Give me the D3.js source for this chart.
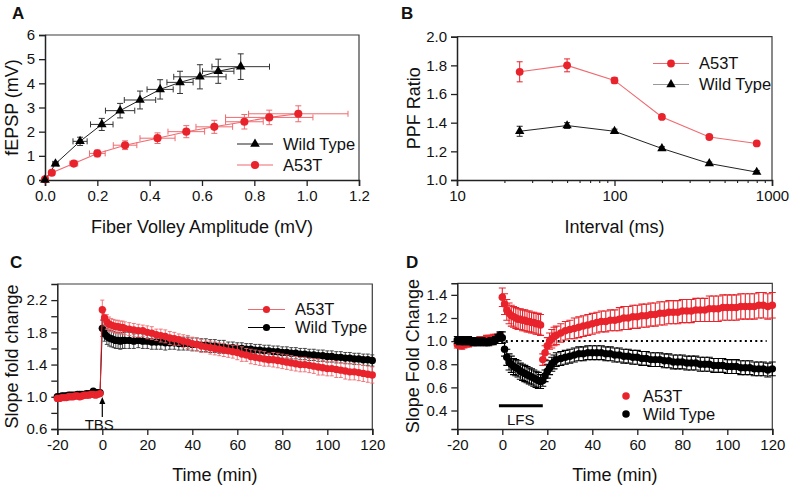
<!DOCTYPE html>
<html><head><meta charset="utf-8">
<script src="https://cdn.jsdelivr.net/npm/d3@7"></script>
<style>body{margin:0;background:#fff}</style>
</head><body>
<svg id="chart" width="792" height="489" style="background:#fff"></svg>
<script>
// ---------------- DATA ----------------
// Panel A: input-output (fiber volley vs fEPSP)
const aWtFv      = [0, 0.04, 0.134, 0.217, 0.287, 0.363, 0.44, 0.516, 0.592, 0.662, 0.748];
const aWtEpsp    = [0, 0.67, 1.6, 2.3, 2.87, 3.31, 3.75, 4.04, 4.27, 4.5, 4.69];
const aWtFvErr   = [0, 0.01, 0.027, 0.043, 0.056, 0.06, 0.05, 0.05, 0.1, 0.06, 0.11];
const aWtEpspErr = [0, 0.08, 0.17, 0.25, 0.3, 0.37, 0.4, 0.46, 0.5, 0.5, 0.53];
const aMutFv      = [0, 0.026, 0.11, 0.2, 0.306, 0.43, 0.54, 0.647, 0.762, 0.857, 0.968];
const aMutEpsp    = [0.03, 0.3, 0.68, 1.1, 1.44, 1.73, 2.0, 2.2, 2.41, 2.59, 2.74];
const aMutFvErr   = [0, 0.01, 0.015, 0.03, 0.045, 0.067, 0.07, 0.07, 0.072, 0.167, 0.19];
const aMutEpspErr = [0, 0.06, 0.1, 0.14, 0.18, 0.22, 0.25, 0.27, 0.3, 0.3, 0.33];
const aXTicks = [0, 0.2, 0.4, 0.6, 0.8, 1.0, 1.2];
const aXLabels = ["0.0", "0.2", "0.4", "0.6", "0.8", "1.0", "1.2"];
const aYTicks = [0, 1, 2, 3, 4, 5, 6];
const aYLabels = ["0", "1", "2", "3", "4", "5", "6"];

// Panel B: paired-pulse facilitation
const bInterval = [25, 50, 100, 200, 400, 800];
const bMut    = [1.755, 1.80, 1.695, 1.44, 1.30, 1.255];
const bMutErr = [0.07, 0.045, 0.02, 0.015, 0.012, 0.01];
const bWt     = [1.34, 1.38, 1.34, 1.22, 1.115, 1.055];
const bWtErr  = [0.035, 0.02, 0.015, 0.012, 0.01, 0.01];
const bXTicks = [10, 100, 1000];
const bXLabels = ["10", "100", "1000"];
const bXMinor = [20, 30, 40, 50, 60, 70, 80, 90, 200, 300, 400, 500, 600, 700, 800, 900];
const bYTicks = [1.0, 1.2, 1.4, 1.6, 1.8, 2.0];
const bYLabels = ["1.0", "1.2", "1.4", "1.6", "1.8", "2.0"];

// Panel C: LTP after TBS
const cTime = [-20,-19,-18,-17,-16,-15,-14,-13,-12,-11,-10,-9,-8,-7,-6,-5,-4,-3,-2,-1,
  0,1,2,3,4,5,6,7,8,9,10,
  12,14,16,18,20,22,24,26,28,30,32,34,36,38,40,42,44,46,48,50,52,54,56,58,60,
  62,64,66,68,70,72,74,76,78,80,82,84,86,88,90,92,94,96,98,100,102,104,106,108,110,112,114,116,118,120];
const cMut = [0.98,0.98,0.99,0.99,0.99,1.00,1.00,1.00,1.01,1.01,1.00,1.01,1.02,1.02,1.02,1.03,1.03,1.02,1.03,1.04,
  2.08,1.98,1.93,1.90,1.89,1.88,1.87,1.87,1.86,1.86,1.85,
  1.84,1.83,1.82,1.82,1.80,1.79,1.77,1.76,1.75,1.73,1.72,1.71,1.69,1.68,1.66,1.65,1.63,1.62,1.61,1.60,
  1.59,1.58,1.57,1.56,1.55,1.53,1.52,1.50,1.49,1.48,1.47,1.46,1.46,1.45,1.44,1.43,1.42,1.41,1.40,1.40,
  1.39,1.38,1.37,1.36,1.35,1.35,1.34,1.33,1.32,1.31,1.31,1.30,1.29,1.28,1.27];
const cMutErr = [0.02,0.02,0.02,0.02,0.02,0.02,0.02,0.02,0.02,0.02,0.02,0.02,0.02,0.02,0.02,0.02,0.02,0.02,0.02,0.02,
  0.12,0.10,0.09,0.09,0.08,0.08,0.08,0.08,0.08,0.08,0.08,
  0.08,0.08,0.08,0.07,0.08,0.08,0.07,0.08,0.08,0.08,0.08,0.07,0.08,0.08,0.08,0.08,0.08,0.07,0.08,0.08,
  0.08,0.08,0.08,0.08,0.09,0.09,0.08,0.09,0.09,0.09,0.09,0.08,0.09,0.09,0.09,0.09,0.09,0.09,0.09,0.09,
  0.09,0.09,0.10,0.09,0.09,0.09,0.10,0.09,0.10,0.10,0.10,0.10,0.10,0.10,0.10];
const cWt = [1.00,1.00,1.01,1.01,1.01,1.02,1.02,1.02,1.02,1.03,1.03,1.03,1.03,1.04,1.04,1.04,1.07,1.05,1.05,1.05,
  1.85,1.79,1.75,1.73,1.72,1.71,1.70,1.70,1.69,1.70,1.70,
  1.70,1.69,1.70,1.69,1.69,1.68,1.68,1.68,1.67,1.67,1.67,1.66,1.66,1.66,1.65,1.65,1.64,1.64,1.63,1.63,
  1.62,1.62,1.61,1.61,1.60,1.60,1.59,1.59,1.58,1.58,1.57,1.57,1.56,1.56,1.55,1.55,1.54,1.54,1.53,1.53,
  1.52,1.52,1.51,1.51,1.50,1.50,1.49,1.49,1.48,1.48,1.47,1.47,1.46,1.46,1.45];
const cWtErr = [0.02,0.02,0.02,0.02,0.02,0.02,0.02,0.02,0.02,0.02,0.02,0.02,0.02,0.02,0.02,0.02,0.02,0.02,0.02,0.02,
  0.10,0.10,0.10,0.10,0.10,0.10,0.10,0.10,0.10,0.10,0.10,
  0.10,0.09,0.09,0.09,0.09,0.09,0.09,0.09,0.09,0.08,0.08,0.08,0.08,0.08,0.08,0.08,0.08,0.08,0.08,0.08,
  0.08,0.08,0.07,0.07,0.07,0.07,0.07,0.07,0.07,0.07,0.07,0.07,0.07,0.07,0.07,0.07,0.07,0.07,0.07,0.07,
  0.07,0.07,0.07,0.07,0.07,0.07,0.07,0.07,0.07,0.07,0.07,0.07,0.07,0.07,0.07];
const cXTicks = [-20, 0, 20, 40, 60, 80, 100, 120];
const cXLabels = ["-20", "0", "20", "40", "60", "80", "100", "120"];
const cYTicks = [0.6, 0.8, 1.0, 1.2, 1.4, 1.6, 1.8, 2.0, 2.2];
const cYLabels = ["0.6", "", "1.0", "", "1.4", "", "1.8", "", "2.2"];

// Panel D: LTD after LFS
const dTime = [-20,-19,-18,-17,-16,-15,-14,-13,-12,-11,-10,-9,-8,-7,-6,-5,-4,-3,-2,-1,
  0,1,2,3,4,5,6,7,8,9,10,11,12,13,14,15,16,17,18,19,20,21,22,23,24,
  26,28,30,32,34,36,38,40,42,44,46,48,50,52,54,56,58,60,62,64,66,68,70,72,74,
  76,78,80,82,84,86,88,90,92,94,96,98,100,102,104,106,108,110,112,114,116,118,120];
const dMut = [0.97,0.97,0.96,0.97,0.98,0.98,0.99,0.99,1.00,1.00,1.01,1.01,1.01,1.02,1.02,1.02,1.03,1.03,1.03,1.04,
  1.38,1.32,1.27,1.24,1.22,1.21,1.20,1.19,1.19,1.18,1.18,1.17,1.17,1.16,1.16,1.15,1.15,1.14,0.84,0.90,0.96,1.00,1.02,1.04,1.05,
  1.07,1.09,1.10,1.11,1.12,1.13,1.14,1.15,1.16,1.17,1.17,1.18,1.18,1.19,1.20,1.20,1.21,1.21,1.22,1.22,1.23,1.23,1.24,1.24,1.25,
  1.25,1.25,1.26,1.26,1.26,1.27,1.27,1.27,1.28,1.28,1.28,1.29,1.29,1.29,1.29,1.30,1.30,1.30,1.30,1.31,1.31,1.30,1.31];
const dMutErr = [0.03,0.03,0.03,0.03,0.03,0.03,0.03,0.03,0.03,0.03,0.03,0.03,0.03,0.03,0.03,0.03,0.03,0.03,0.03,0.03,
  0.08,0.09,0.09,0.09,0.09,0.09,0.09,0.09,0.09,0.09,0.09,0.09,0.09,0.09,0.09,0.09,0.09,0.09,0.05,0.06,0.07,0.07,0.08,0.08,0.08,
  0.08,0.08,0.08,0.09,0.09,0.09,0.09,0.09,0.09,0.09,0.09,0.09,0.09,0.10,0.10,0.10,0.10,0.10,0.10,0.10,0.10,0.10,0.10,0.10,0.10,
  0.10,0.10,0.10,0.10,0.10,0.10,0.10,0.10,0.11,0.11,0.11,0.11,0.11,0.11,0.11,0.11,0.11,0.11,0.11,0.11,0.11,0.11,0.11];
const dWt = [1.01,1.00,1.01,1.00,1.00,1.01,1.00,0.99,1.00,0.99,0.99,1.00,0.99,0.99,0.99,1.00,1.00,1.01,1.03,1.05,
  1.03,0.93,0.86,0.82,0.80,0.78,0.77,0.76,0.74,0.73,0.72,0.71,0.70,0.69,0.68,0.67,0.66,0.65,0.66,0.70,0.74,0.77,0.80,0.82,0.84,
  0.85,0.86,0.87,0.88,0.89,0.89,0.90,0.90,0.90,0.90,0.89,0.89,0.88,0.88,0.87,0.87,0.86,0.86,0.85,0.85,0.84,0.84,0.84,0.83,0.83,
  0.82,0.82,0.82,0.81,0.81,0.81,0.80,0.80,0.80,0.79,0.79,0.79,0.78,0.78,0.78,0.77,0.77,0.77,0.76,0.76,0.76,0.75,0.76];
const dWtErr = [0.03,0.03,0.03,0.03,0.03,0.03,0.03,0.03,0.03,0.03,0.03,0.03,0.03,0.03,0.03,0.03,0.03,0.03,0.03,0.03,
  0.05,0.06,0.07,0.07,0.07,0.07,0.07,0.07,0.07,0.07,0.07,0.07,0.07,0.07,0.07,0.07,0.07,0.06,0.05,0.05,0.06,0.06,0.06,0.06,0.06,
  0.06,0.06,0.06,0.06,0.06,0.06,0.06,0.06,0.06,0.06,0.06,0.06,0.06,0.06,0.06,0.06,0.06,0.06,0.06,0.06,0.06,0.06,0.06,0.06,0.06,
  0.06,0.06,0.06,0.06,0.06,0.06,0.06,0.06,0.06,0.06,0.06,0.06,0.06,0.06,0.06,0.06,0.06,0.06,0.06,0.06,0.06,0.06,0.06];
const dXTicks = [-20, 0, 20, 40, 60, 80, 100, 120];
const dXLabels = ["-20", "0", "20", "40", "60", "80", "100", "120"];
const dYTicks = [0.4, 0.6, 0.8, 1.0, 1.2, 1.4];
const dYLabels = ["0.4", "0.6", "0.8", "1.0", "1.2", "1.4"];

// ---------------- DRAWING ----------------
const FONT = "Arial, 'Liberation Sans', Helvetica, sans-serif";
const RED = "#e8232b";
const RED_LT = "#ef6a6f";
const INK = "#111";
const svg = d3.select("#chart");

function addAxes(x, y, cfg) {
  const [x0, x1] = x.range();
  const [y0, y1] = y.range();
  const g = svg.append("g");
  g.append("path").attr("d", `M${x0},${y1}H${x1}V${y0}`)
    .attr("fill", "none").attr("stroke", "#3c3c3c").attr("stroke-width", 1.2);
  const ax = d3.axisBottom(x).tickValues(cfg.xTicks).tickFormat((d, i) => cfg.xLabels[i])
    .tickSizeOuter(0).tickSize(6).tickPadding(4);
  const gx = g.append("g").attr("transform", `translate(0,${y0})`).call(ax);
  const ay = d3.axisLeft(y).tickValues(cfg.yTicks).tickFormat((d, i) => cfg.yLabels[i])
    .tickSizeOuter(0).tickSize(6).tickPadding(4);
  const gy = g.append("g").attr("transform", `translate(${x0},0)`).call(ay);
  [gx, gy].forEach(a => {
    a.attr("font-size", 15).attr("font-family", FONT);
    a.select(".domain").attr("stroke", "#222").attr("stroke-width", 1.5);
    a.selectAll(".tick line").attr("stroke", "#222").attr("stroke-width", 1.3);
    a.selectAll(".tick text").attr("fill", INK);
  });
  if (cfg.xMinor) {
    const gm = g.append("g").attr("transform", `translate(0,${y0})`)
      .call(d3.axisBottom(x).tickValues(cfg.xMinor).tickFormat("").tickSize(3).tickSizeOuter(0));
    gm.select(".domain").remove();
    gm.selectAll(".tick line").attr("stroke", "#222").attr("stroke-width", 1.1);
  }
  g.append("text").attr("x", (x0 + x1) / 2).attr("y", cfg.xTitleY).attr("dy", "0.35em")
    .attr("text-anchor", "middle").attr("font-family", FONT).attr("font-size", 18).attr("fill", INK)
    .text(cfg.xTitle);
  g.append("text").attr("transform", `translate(${cfg.yTitleX},${(y0 + y1) / 2}) rotate(-90)`)
    .attr("dy", "0.35em").attr("text-anchor", "middle").attr("font-family", FONT)
    .attr("font-size", 18).attr("fill", INK).text(cfg.yTitle);
  g.append("text").attr("x", cfg.label[1]).attr("y", cfg.label[2]).attr("font-family", FONT)
    .attr("font-weight", "bold").attr("font-size", 17).attr("fill", INK).text(cfg.label[0]);
}

function zip(xs, ys, es, xes) {
  return xs.map((v, i) => ({ x: v, y: ys[i], e: es ? es[i] : 0, xe: xes ? xes[i] : 0 }));
}

function errorBars(pts, x, y, color, cap, sw) {
  const g = svg.append("g").attr("stroke", color).attr("stroke-width", sw).attr("fill", "none");
  pts.forEach(p => {
    if (p.e > 0) {
      const yt = y(p.y + p.e), yb = y(p.y - p.e), cx = x(p.x);
      g.append("path").attr("d",
        `M${cx},${yt}V${yb}M${cx - cap / 2},${yt}H${cx + cap / 2}M${cx - cap / 2},${yb}H${cx + cap / 2}`);
    }
    if (p.xe > 0) {
      const xl = x(p.x - p.xe), xr = x(p.x + p.xe), cy = y(p.y);
      g.append("path").attr("d",
        `M${xl},${cy}H${xr}M${xl},${cy - cap / 2}V${cy + cap / 2}M${xr},${cy - cap / 2}V${cy + cap / 2}`);
    }
  });
}

function line(pts, x, y, color, sw) {
  svg.append("path").datum(pts)
    .attr("d", d3.line().x(d => x(d.x)).y(d => y(d.y)))
    .attr("fill", "none").attr("stroke", color).attr("stroke-width", sw);
}

function markers(pts, x, y, color, type, size) {
  const sym = d3.symbol().type(type === "tri" ? d3.symbolTriangle : d3.symbolCircle).size(size);
  svg.append("g").selectAll("path").data(pts).join("path")
    .attr("transform", d => `translate(${x(d.x)},${y(d.y)})`)
    .attr("d", sym).attr("fill", color);
}

function legendItem(x0, x1, yy, color, type, size, label, withLine, lineColor) {
  if (withLine) {
    svg.append("line").attr("x1", x0).attr("x2", x1).attr("y1", yy).attr("y2", yy)
      .attr("stroke", lineColor || color).attr("stroke-width", 1.2);
  }
  const sym = d3.symbol().type(type === "tri" ? d3.symbolTriangle : d3.symbolCircle).size(size);
  svg.append("path").attr("transform", `translate(${(x0 + x1) / 2},${yy})`).attr("d", sym).attr("fill", color);
  svg.append("text").attr("x", x1 + 10).attr("y", yy).attr("dy", "0.36em")
    .attr("font-family", FONT).attr("font-size", 16.5).attr("fill", INK).text(label);
}

// ===== Panel A =====
{
  const x = d3.scaleLinear([0, 1.2], [45, 359]);
  const y = d3.scaleLinear([0, 6], [180, 35]);
  addAxes(x, y, { xTicks: aXTicks, xLabels: aXLabels, yTicks: aYTicks, yLabels: aYLabels,
    xTitle: "Fiber Volley Amplitude (mV)", xTitleY: 227, yTitle: "fEPSP (mV)", yTitleX: 12,
    label: ["A", 12, 19] });
  const wt = zip(aWtFv, aWtEpsp, aWtEpspErr, aWtFvErr);
  const mut = zip(aMutFv, aMutEpsp, aMutEpspErr, aMutFvErr);
  errorBars(mut, x, y, RED_LT, 6, 1);
  line(mut, x, y, RED_LT, 1.1);
  errorBars(wt, x, y, "#333", 6, 1);
  line(wt, x, y, "#222", 1);
  markers(mut, x, y, RED, "circle", 52);
  markers(wt, x, y, "#000", "tri", 40);
  legendItem(237, 273, 144, "#000", "tri", 40, "Wild Type", true, "#222");
  legendItem(237, 273, 165, RED, "circle", 52, "A53T", true, RED_LT);
}

// ===== Panel B =====
{
  const x = d3.scaleLog([10, 1000], [457, 772]);
  const y = d3.scaleLinear([1, 2], [180, 36.7]);
  addAxes(x, y, { xTicks: bXTicks, xLabels: bXLabels, xMinor: bXMinor, yTicks: bYTicks, yLabels: bYLabels,
    xTitle: "Interval (ms)", xTitleY: 227, yTitle: "PPF Ratio", yTitleX: 414,
    label: ["B", 401, 19] });
  const mut = zip(bInterval, bMut, bMutErr);
  const wt = zip(bInterval, bWt, bWtErr);
  line(mut, x, y, RED_LT, 1.1);
  line(wt, x, y, "#222", 1);
  errorBars(mut, x, y, RED, 6, 1);
  errorBars(wt, x, y, "#222", 6, 1);
  markers(mut, x, y, RED, "circle", 48);
  markers(wt, x, y, "#000", "tri", 38);
  legendItem(653, 689, 63.5, RED, "circle", 48, "A53T", true, RED_LT);
  legendItem(653, 689, 84.5, "#000", "tri", 38, "Wild Type", true, "#999");
}

// ===== Panel C =====
{
  const x = d3.scaleLinear([-20, 120], [57.3, 372.3]);
  const y = d3.scaleLinear([0.6, 2.4], [429, 284]);
  addAxes(x, y, { xTicks: cXTicks, xLabels: cXLabels, yTicks: cYTicks, yLabels: cYLabels,
    xTitle: "Time (min)", xTitleY: 475, yTitle: "Slope fold change", yTitleX: 12,
    label: ["C", 10, 268] });
  const wt = zip(cTime, cWt, cWtErr);
  const mut = zip(cTime, cMut, cMutErr);
  errorBars(wt, x, y, "#333", 4, 0.9);
  line(wt, x, y, "#000", 1);
  markers(wt, x, y, "#000", "circle", 42);
  errorBars(mut, x, y, RED_LT, 4, 0.9);
  line(mut, x, y, RED, 1);
  markers(mut, x, y, RED, "circle", 42);
  const ax = x(0);
  svg.append("line").attr("x1", ax).attr("x2", ax).attr("y1", 417).attr("y2", 401)
    .attr("stroke", "#000").attr("stroke-width", 1.2);
  svg.append("path").attr("d", `M${ax},397 L${ax - 3},404 L${ax + 3},404 Z`).attr("fill", "#000");
  svg.append("text").attr("x", ax - 3).attr("y", 428).attr("dy", "0.1em").attr("text-anchor", "middle")
    .attr("font-family", FONT).attr("font-size", 15).attr("fill", INK).text("TBS");
  legendItem(248, 285, 309.5, RED, "circle", 40, "A53T", true, RED_LT);
  legendItem(248, 285, 327.5, "#000", "circle", 40, "Wild Type", true, "#000");
}

// ===== Panel D =====
{
  const x = d3.scaleLinear([-20, 120], [457.3, 772.3]);
  const y = d3.scaleLinear([0.24, 1.5], [429, 283.3]);
  addAxes(x, y, { xTicks: dXTicks, xLabels: dXLabels, yTicks: dYTicks, yLabels: dYLabels,
    xTitle: "Time (min)", xTitleY: 475, yTitle: "Slope Fold Change", yTitleX: 413,
    label: ["D", 406, 268] });
  const mut = zip(dTime, dMut, dMutErr);
  const wt = zip(dTime, dWt, dWtErr);
  svg.append("line").attr("x1", x(-17)).attr("x2", x(117.5)).attr("y1", y(1)).attr("y2", y(1))
    .attr("stroke", "#000").attr("stroke-width", 2).attr("stroke-dasharray", "2,3.2");
  errorBars(mut, x, y, RED, 7, 1.1);
  markers(mut, x, y, RED, "circle", 44);
  errorBars(wt, x, y, "#000", 7, 1.1);
  markers(wt, x, y, "#000", "circle", 44);
  svg.append("line").attr("x1", x(-1.5)).attr("x2", x(18)).attr("y1", 405.7).attr("y2", 405.7)
    .attr("stroke", "#000").attr("stroke-width", 3);
  svg.append("text").attr("x", x(8.2)).attr("y", 420).attr("dy", "0.35em").attr("text-anchor", "middle")
    .attr("font-family", FONT).attr("font-size", 15).attr("fill", INK).text("LFS");
  legendItem(619, 633, 396, RED, "circle", 44, "A53T", false);
  legendItem(619, 633, 414, "#000", "circle", 44, "Wild Type", false);
}
</script>
</body></html>
